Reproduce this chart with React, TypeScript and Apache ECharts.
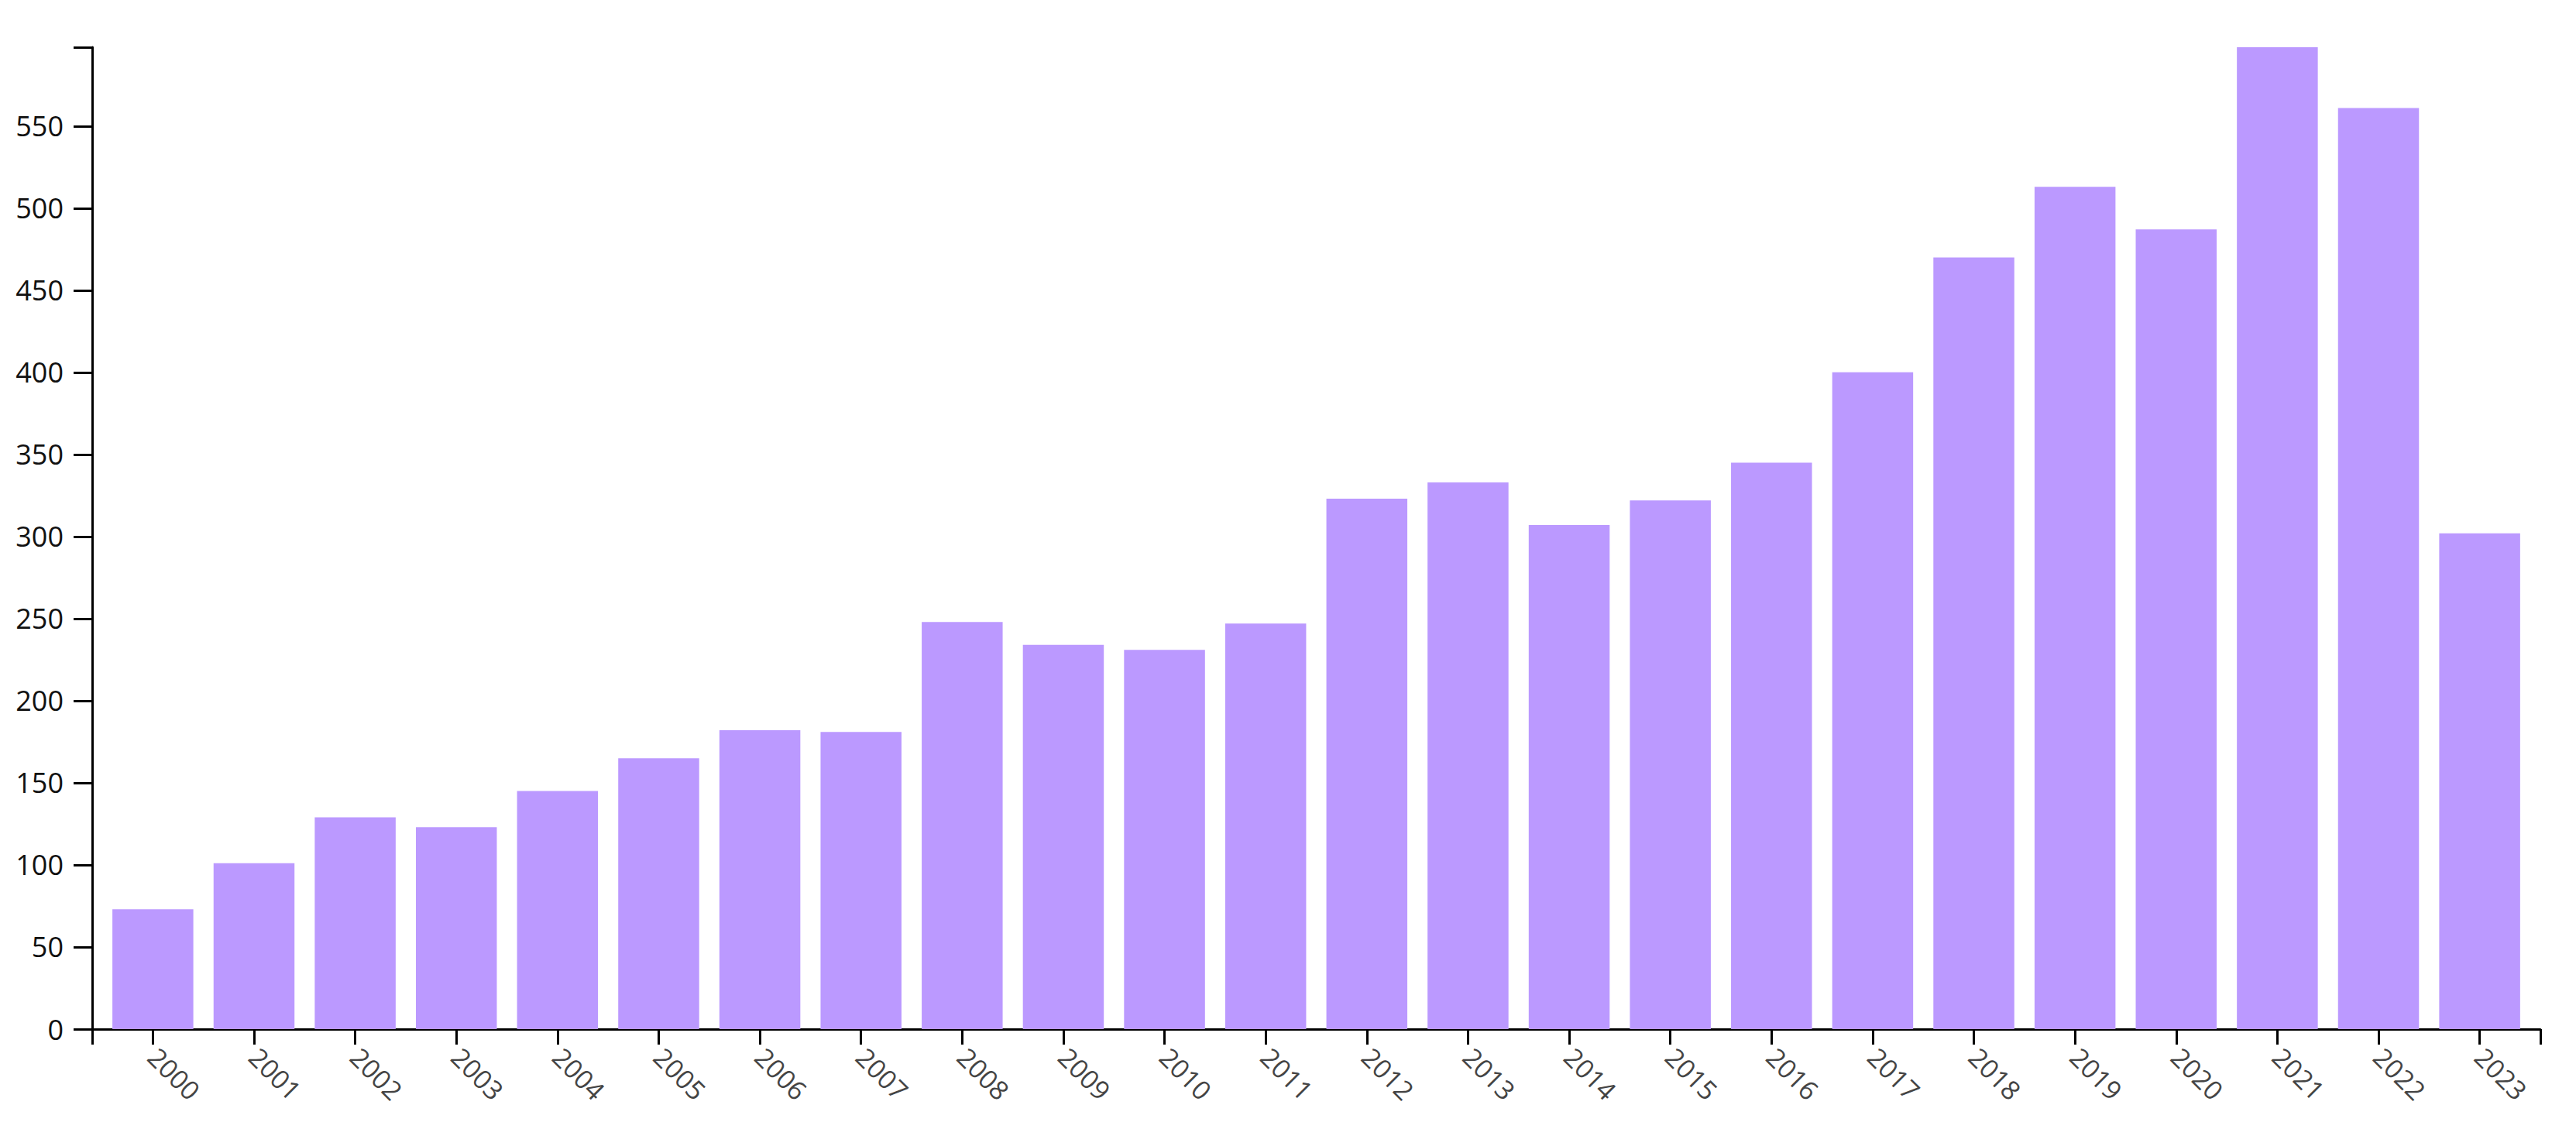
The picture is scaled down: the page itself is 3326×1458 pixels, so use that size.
import React, { useEffect, useRef } from "react";
import * as echarts from "echarts";

const years = [
  "2000", "2001", "2002", "2003", "2004", "2005", "2006", "2007",
  "2008", "2009", "2010", "2011", "2012", "2013", "2014", "2015",
  "2016", "2017", "2018", "2019", "2020", "2021", "2022", "2023",
];
const counts = [
  73, 101, 129, 123, 145, 165, 182, 181,
  248, 234, 231, 247, 323, 333, 307, 322,
  345, 400, 470, 513, 487, 598, 561, 302,
];
const yTickLabels = [0, 50, 100, 150, 200, 250, 300, 350, 400, 450, 500, 550];

export default function App() {
  const ref = useRef<HTMLDivElement>(null);
  useEffect(() => {
    if (!ref.current) return;
    const chart = echarts.init(ref.current, undefined, { renderer: "svg" });
    const yMax = Math.max(...counts);
    const pad = 0.6;
    const xMin = -pad;
    const xMax = years.length - 1 + pad;
    const idx = years.map((_, i) => i);
    chart.setOption({
      animation: false,
      backgroundColor: "#ffffff",
      grid: { left: 119, right: 46, top: 61, bottom: 129, containLabel: false },
      xAxis: {
        type: "value",
        min: xMin,
        max: xMax,
        splitLine: { show: false },
        axisLine: { show: true, onZero: false, lineStyle: { color: "#000", width: 3 } },
        axisTick: {
          show: true,
          length: 20,
          lineStyle: { color: "#000", width: 3 },
          customValues: [xMin, ...idx, xMax],
        },
        axisLabel: {
          show: true,
          customValues: idx,
          rotate: -45,
          margin: 30,
          padding: [0, 0, 36, 0],
          color: "#444",
          fontSize: 34,
          fontFamily: "Open Sans",
          formatter: (v: number) => years[Math.round(v)] ?? "",
        },
      },
      yAxis: {
        type: "value",
        min: 0,
        max: yMax,
        splitLine: { show: false },
        axisLine: { show: true, onZero: false, lineStyle: { color: "#000", width: 3 } },
        axisTick: {
          show: true,
          length: 24,
          lineStyle: { color: "#000", width: 3 },
          customValues: [...yTickLabels, yMax],
        },
        axisLabel: {
          show: true,
          customValues: yTickLabels,
          margin: 37,
          color: "#111",
          fontSize: 36,
          fontFamily: "Open Sans",
        },
      },
      series: [
        {
          type: "bar",
          data: counts.map((c, i) => [i, c]),
          barWidth: "80%",
          itemStyle: { color: "#bb99ff" },
        },
      ],
    });
    return () => chart.dispose();
  }, []);
  return (
    <div
      ref={ref}
      style={{ position: "fixed", left: 0, top: 0, width: 3326, height: 1458, background: "#fff" }}
    />
  );
}
